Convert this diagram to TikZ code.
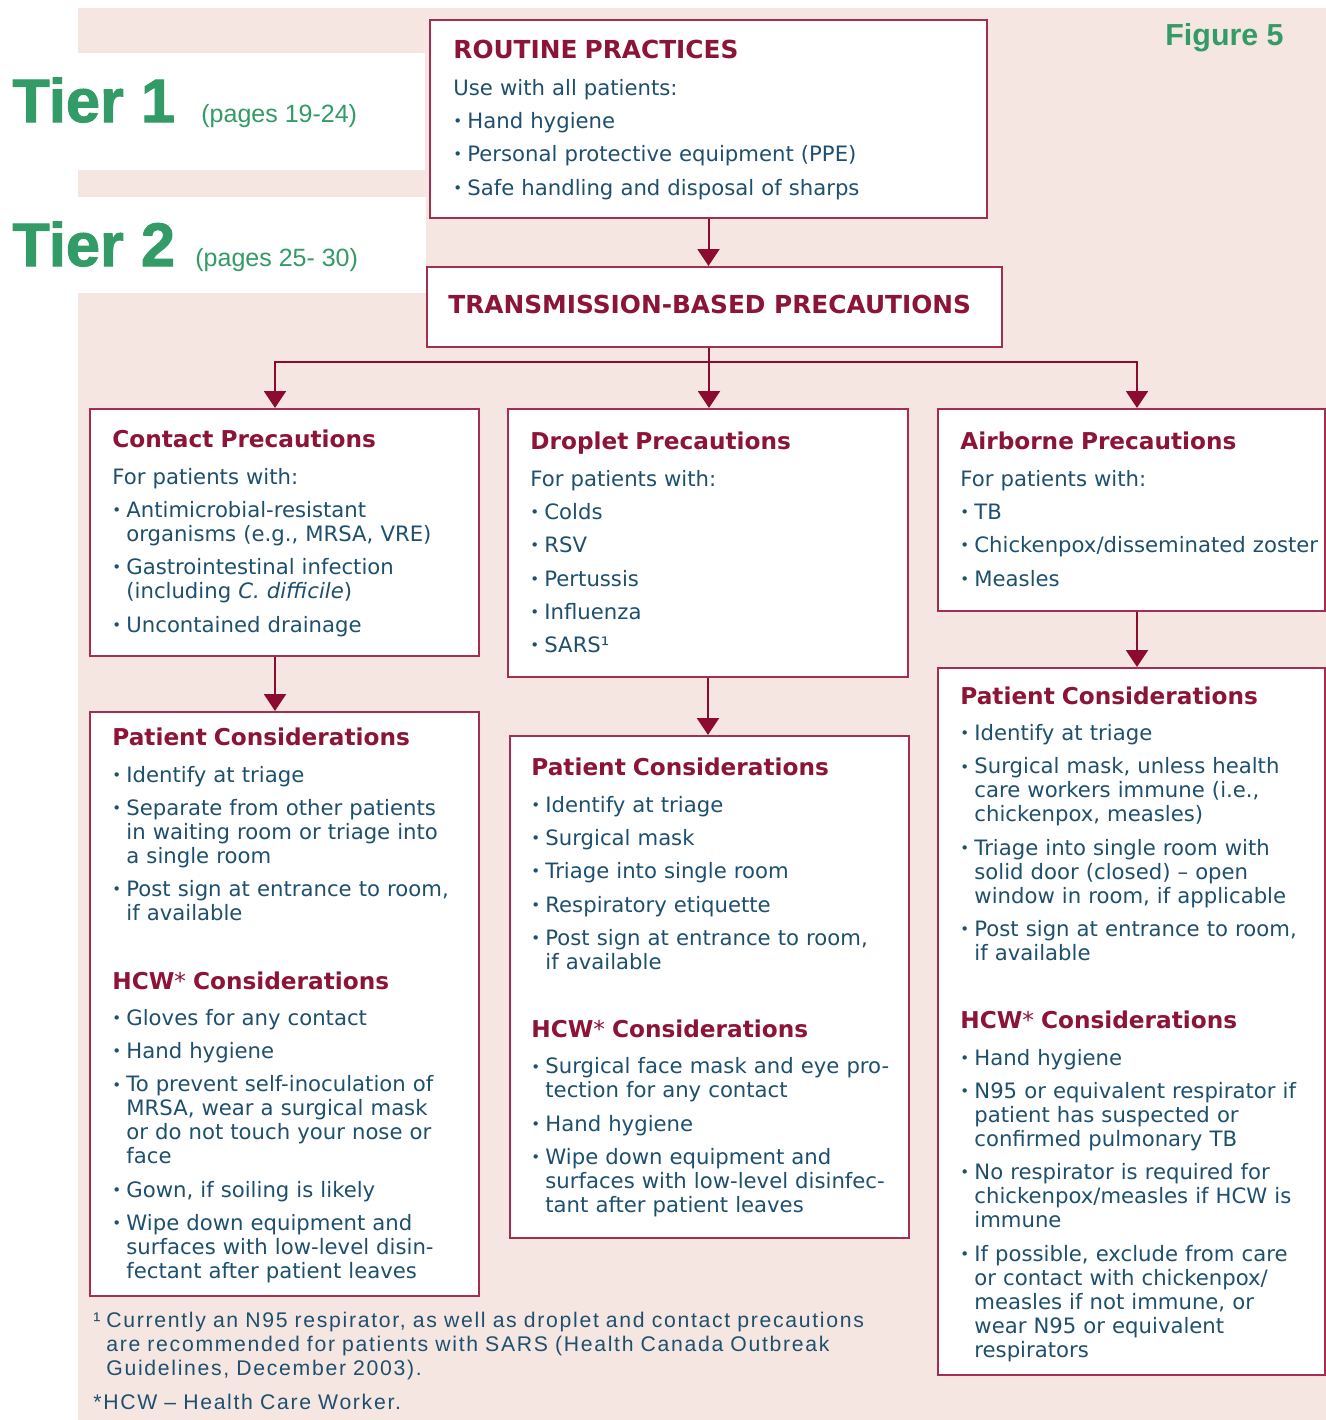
\documentclass[tikz,border=0pt]{standalone}
\usepackage{fontspec}
\setmainfont{DejaVu Sans}
\newfontfamily\libfont{Liberation Sans}
\newfontfamily\tierfont[FakeBold=1.6]{Liberation Sans Bold}
\newfontfamily\footfont[LetterSpace=8]{Liberation Sans}
\usetikzlibrary{arrows.meta,fit,calc}
\definecolor{bgpink}{RGB}{245,230,226}
\definecolor{boxred}{RGB}{165,45,80}
\definecolor{arrred}{RGB}{140,12,48}
\definecolor{hdred}{RGB}{140,20,55}
\definecolor{bodyblue}{RGB}{30,80,110}
\definecolor{tiergreen}{RGB}{50,155,102}
\newcommand\hdfont{\fontsize{11.6pt}{12pt}\selectfont\bfseries}
\newcommand\caphdfont{\fontsize{12.4pt}{12pt}\selectfont\bfseries}
\newcommand\hd[1]{{\hdfont\color{hdred}#1}\par\vspace{1.4pt}}
\newcommand\caphd[1]{{\caphdfont\color{hdred}#1}\par\vspace{1.4pt}}
\newcommand\itm[1]{\par\hangindent=7pt\hangafter=1\noindent\makebox[7pt][l]{\raisebox{0.9pt}{\fontsize{7.5pt}{7.5pt}\selectfont •}}#1}
\newcommand\sect{\par\vspace{17.5pt}}
\newcommand\strt{\rule{0pt}{10pt}}
\tikzset{
  x=0.5pt, y=-0.5pt,
  box/.style={draw=boxred, line width=1pt, fill=white, inner sep=0pt},
  txt/.style={anchor=north west, inner sep=0pt, text width=300pt, align=left,
    font=\fontsize{10.6pt}{12pt}\selectfont, text=bodyblue,
    execute at begin node={\setlength\parskip{4.67pt}\setlength\parindent{0pt}}},
  conn/.style={draw=arrred, line width=1pt},
  arr/.style={conn, -{Triangle[width=11pt,length=8.5pt]}},
  tier/.style={anchor=base west, inner sep=0pt, text=tiergreen, font=\tierfont\fontsize{30.7pt}{31pt}\selectfont},
  pages/.style={anchor=base west, inner sep=0pt, text=tiergreen, font=\libfont\fontsize{12.5pt}{13pt}\selectfont}
}
\begin{document}
\begin{tikzpicture}
\useasboundingbox (0,0) rectangle (1326,1420);
\fill[white] (0,0) rectangle (1326,1420);
\fill[bgpink] (78,8) rectangle (1326,1420);
\fill[white] (78,53) rectangle (425,170);
\fill[white] (78,197) rectangle (426,293);

% tier labels
\node[tier] (tier1) at (12,122) {Tier 1};
\node[pages] (pages1) at (201,122) {(pages 19-24)};
\node[tier] (tier2) at (12,266) {Tier 2};
\node[pages] (pages2) at (195,266) {(pages 25- 30)};
\node[anchor=base west, inner sep=0pt, text=tiergreen, font=\libfont\bfseries\fontsize{15.2pt}{16pt}\selectfont] (fig) at (1165,45) {Figure 5};

% boxes
\node[box, fit={(430,20) (987,218)}] (routine) {};
\node[box, fit={(427,267) (1002,347)}] (trans) {};
\node[box, fit={(90,409) (479,656)}] (contact) {};
\node[box, fit={(508,409) (908,677)}] (droplet) {};
\node[box, fit={(938,409) (1325,611)}] (airborne) {};
\node[box, fit={(90,712) (479,1296)}] (cpc) {};
\node[box, fit={(510,736) (909,1238)}] (dpc) {};
\node[box, fit={(938,668) (1325,1375)}] (apc) {};

% connectors
\draw[arr] (routine.south) -- (routine.south |- trans.north);
\coordinate (split) at (709,362);
\draw[conn] (split |- trans.south) -- (split);
\draw[arr] (split) -| ($(contact.north west)+(186,0)$);
\draw[arr] (split) -- (split |- droplet.north);
\draw[arr] (split) -| ($(airborne.north west)+(200,0)$);
\draw[arr] ($(contact.south west)+(186,0)$) -- ($(cpc.north west)+(186,0)$);
\draw[arr] (droplet.south) -- (droplet.south |- dpc.north);
\draw[arr] ($(airborne.south west)+(200,0)$) -- ($(apc.north west)+(200,0)$);

% texts
\node[txt] (routinetxt) at (453,38.5) {\strt\caphd{ROUTINE PRACTICES}Use with all patients:\itm{Hand hygiene}\itm{Personal protective equipment (PPE)}\itm{Safe handling and disposal of sharps}\par};

\node[anchor=base west, inner sep=0pt, text=hdred, font=\caphdfont] (transtxt) at (448,313) {TRANSMISSION-BASED PRECAUTIONS};

\node[txt] (contacttxt) at (112,427.5) {\strt\hd{Contact Precautions}For patients with:\itm{Antimicrobial-resistant\newline organisms (e.g., MRSA, VRE)}\itm{Gastrointestinal infection\newline (including \textit{C. difficile})}\itm{Uncontained drainage}\par};

\node[txt] (droplettxt) at (530,429.5) {\strt\hd{Droplet Precautions}For patients with:\itm{Colds}\itm{RSV}\itm{Pertussis}\itm{Influenza}\itm{SARS¹}\par};

\node[txt] (airbornetxt) at (960,429.5) {\strt\hd{Airborne Precautions}For patients with:\itm{TB}\itm{Chickenpox/disseminated zoster}\itm{Measles}\par};

\node[txt] (cpctxt) at (112,725.5) {\strt\hd{Patient Considerations}\itm{Identify at triage}\itm{Separate from other patients\newline in waiting room or triage into\newline a single room}\itm{Post sign at entrance to room,\newline if available}\sect\hd{HCW{\mdseries*} Considerations}\itm{Gloves for any contact}\itm{Hand hygiene}\itm{To prevent self-inoculation of\newline MRSA, wear a surgical mask\newline or do not touch your nose or\newline face}\itm{Gown, if soiling is likely}\itm{Wipe down equipment and\newline surfaces with low-level disin-\newline fectant after patient leaves}\par};

\node[txt] (dpctxt) at (531,755.5) {\strt\hd{Patient Considerations}\itm{Identify at triage}\itm{Surgical mask}\itm{Triage into single room}\itm{Respiratory etiquette}\itm{Post sign at entrance to room,\newline if available}\sect\hd{HCW{\mdseries*} Considerations}\itm{Surgical face mask and eye pro-\newline tection for any contact}\itm{Hand hygiene}\itm{Wipe down equipment and\newline surfaces with low-level disinfec-\newline tant after patient leaves}\par};

\node[txt] (apctxt) at (960,684) {\strt\hd{Patient Considerations}\itm{Identify at triage}\itm{Surgical mask, unless health\newline care workers immune (i.e.,\newline chickenpox, measles)}\itm{Triage into single room with\newline solid door (closed) – open\newline window in room, if applicable}\itm{Post sign at entrance to room,\newline if available}\sect\hd{HCW{\mdseries*} Considerations}\itm{Hand hygiene}\itm{N95 or equivalent respirator if\newline patient has suspected or\newline confirmed pulmonary TB}\itm{No respirator is required for\newline chickenpox/measles if HCW is\newline immune}\itm{If possible, exclude from care\newline or contact with chickenpox/\newline measles if not immune, or\newline wear N95 or equivalent\newline respirators}\par};

\node[txt, text width=420pt, font=\footfont\fontsize{10.6pt}{12pt}\selectfont, execute at begin node={\setlength\parskip{5pt}\setlength\parindent{0pt}}] (foot) at (93,1306.7) {\strt\hangindent=6.5pt\hangafter=1\makebox[6.5pt][l]{¹}Currently an N95 respirator, as well as droplet and contact precautions\newline are recommended for patients with SARS (Health Canada Outbreak\newline Guidelines, December 2003).\par *HCW – Health Care Worker.\par};
\end{tikzpicture}
\end{document}
